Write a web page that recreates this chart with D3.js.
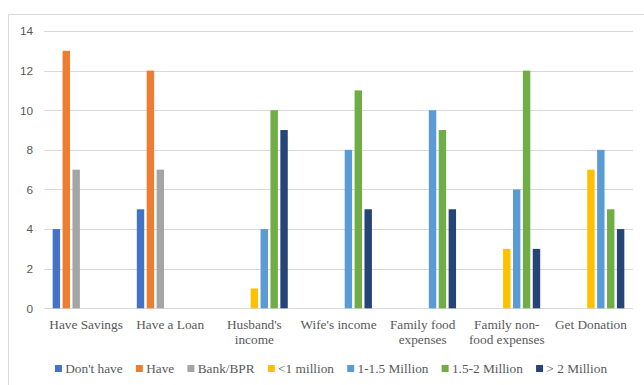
<!DOCTYPE html>
<html>
<head>
<meta charset="utf-8">
<script src="https://cdn.jsdelivr.net/npm/d3@7"></script>
<style>
  html, body { margin: 0; padding: 0; background: #fff; }
  svg { display: block; }
  .serif { font-family: "Liberation Serif", "Times New Roman", Times, serif; }
  .sans { font-family: "Liberation Sans", Arial, sans-serif; }
</style>
</head>
<body>
<svg id="chart" width="644" height="385"></svg>
<script>
// Categories, each split into the lines shown under the axis
const categories = ["Have Savings", "Have a Loan", "Husband's income", "Wife's income",
  "Family food expenses", "Family non-food expenses", "Get Donation"];
const categoryLines = [["Have Savings"], ["Have a Loan"], ["Husband's", "income"], ["Wife's income"],
  ["Family food", "expenses"], ["Family non-", "food expenses"], ["Get Donation"]];

// Series names and colours
const seriesNames = ["Don't have", "Have", "Bank/BPR", "<1 million", "1-1.5 Million", "1.5-2 Million", "> 2 Million"];
const seriesColors = ["#4472C4", "#ED7D31", "#A5A5A5", "#FFC000", "#5B9BD5", "#70AD47", "#264478"];

// Series values per category (null = no bar)
const dontHave   = [4, 5, null, null, null, null, null];
const have       = [13, 12, null, null, null, null, null];
const bankBPR    = [7, 7, null, null, null, null, null];
const under1M    = [null, null, 1, null, null, 3, 7];
const from1to15M = [null, null, 4, 8, 10, 6, 8];
const from15to2M = [null, null, 10, 11, 9, 12, 5];
const over2M     = [null, null, 9, 5, 5, 3, 4];
const seriesValues = [dontHave, have, bankBPR, under1M, from1to15M, from15to2M, over2M];

const yTicks = [0, 2, 4, 6, 8, 10, 12, 14];

const svg = d3.select("#chart");
const plot = { left: 44, right: 633, top: 31, bottom: 308.3 };

// Chart area frame (only top and left edges fall inside the view)
svg.append("path")
  .attr("d", "M8.5,385 V14.5 H644")
  .attr("fill", "none")
  .attr("stroke", "#D9D9D9")
  .attr("stroke-width", 1);

const x0 = d3.scaleBand().domain(categories).range([plot.left, plot.right]).padding(0);
const x1 = d3.scaleBand().domain(seriesNames).range([0, x0.bandwidth()])
  .paddingInner(0.25).paddingOuter(0.875);
const y = d3.scaleLinear().domain([0, 14]).range([plot.bottom, plot.top]);

// Gridlines
svg.append("g")
  .selectAll("line")
  .data(yTicks)
  .join("line")
  .attr("x1", plot.left).attr("x2", plot.right)
  .attr("y1", d => Math.round(y(d)) + 0.5).attr("y2", d => Math.round(y(d)) + 0.5)
  .attr("stroke", "#D9D9D9").attr("stroke-width", 1);

// Y axis labels
const yAxis = d3.axisLeft(y).tickValues(yTicks).tickSize(0).tickPadding(11);
const yg = svg.append("g").attr("transform", `translate(${plot.left},0)`).call(yAxis);
yg.select(".domain").remove();
yg.attr("font-family", null).attr("font-size", null);
yg.selectAll("text")
  .attr("class", "sans")
  .style("font-size", "11.8px")
  .attr("fill", "#595959");

// Bars
const groups = svg.append("g").selectAll("g")
  .data(categories)
  .join("g")
  .attr("transform", d => `translate(${x0(d)},0)`);

groups.selectAll("rect")
  .data((c, ci) => seriesNames.map((s, si) => ({ series: s, si, value: seriesValues[si][ci] }))
    .filter(d => d.value != null))
  .join("rect")
  .attr("x", d => x1(d.series))
  .attr("width", x1.bandwidth())
  .attr("y", d => y(d.value))
  .attr("height", d => y(0) - y(d.value))
  .attr("fill", d => seriesColors[d.si]);

// Category labels
const xl = svg.append("g").selectAll("text")
  .data(categories)
  .join("text")
  .attr("class", "serif")
  .attr("x", d => x0(d) + x0.bandwidth() / 2)
  .attr("y", 329)
  .attr("text-anchor", "middle")
  .style("font-size", "13.3px")
  .attr("fill", "#595959");
xl.selectAll("tspan")
  .data((d, i) => categoryLines[i])
  .join("tspan")
  .attr("x", function () { return this.parentNode.getAttribute("x"); })
  .attr("dy", (d, i) => i === 0 ? 0 : 15)
  .text(d => d);

// Legend
const legend = svg.append("g");
const items = legend.selectAll("g")
  .data(seriesNames)
  .join("g");
items.append("rect")
  .attr("width", 7).attr("height", 7)
  .attr("y", 365)
  .attr("fill", (d, i) => seriesColors[i]);
items.append("text")
  .attr("class", "serif")
  .attr("x", 10.3)
  .attr("y", 373)
  .style("font-size", "13.3px")
  .attr("fill", "#595959")
  .text(d => d);

const gap = 13.2;
const widths = [];
items.each(function () {
  widths.push(10.3 + this.querySelector("text").getComputedTextLength());
});
const total = d3.sum(widths) + gap * (widths.length - 1);
let cx = 331 - total / 2;
items.attr("transform", (d, i) => {
  const t = `translate(${cx},0)`;
  cx += widths[i] + gap;
  return t;
});
</script>
</body>
</html>
